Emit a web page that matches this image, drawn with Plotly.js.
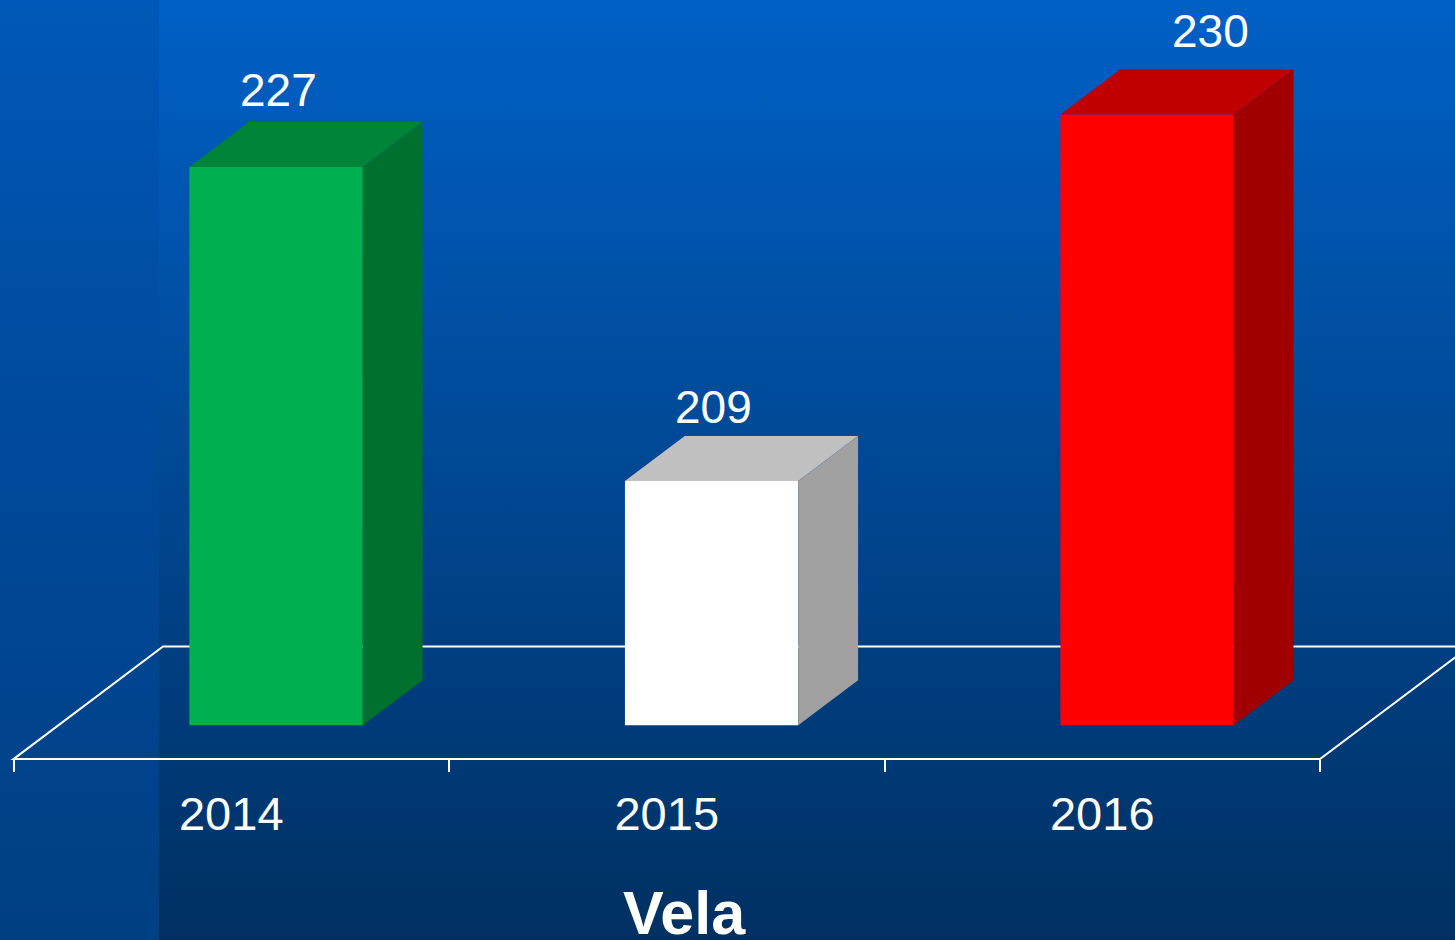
<!DOCTYPE html>
<html><head><meta charset="utf-8">
<script src="https://cdn.plot.ly/plotly-3.0.1.min.js"></script>
<style>
html,body{margin:0;padding:0;width:1455px;height:940px;overflow:hidden;background:#003062;}
#bg{position:absolute;left:0;top:0;width:1455px;height:940px;background:linear-gradient(to bottom,#0060c6 0%,#004a98 45%,#003062 100%);}
#strip{position:absolute;left:0;top:0;width:159px;height:940px;background:linear-gradient(to bottom,#0058b8 0%,#004a9c 45%,#003f82 100%);}
#chart{position:absolute;left:0;top:0;width:1455px;height:940px;}
</style></head>
<body><div id="bg"></div><div id="strip"></div><div id="chart"></div>
<script>
// ---- data ----
const categories = ['2014', '2015', '2016'];
const values = [227, 209, 230];
const frontColors = ['#00b050', '#ffffff', '#ff0000'];
const topColors = ['#00843a', '#c0c0c0', '#c00000'];
const sideColors = ['#00702f', '#a0a0a0', '#a00000'];
const axisTitle = 'Vela';

// ---- geometry (axis units) ----
const yBase = 195;            // value at the bars' bottom
const DX = 0.3433;            // floor depth along x (category units)
const DY = 6.453;             // floor depth along y (value units)
const barFront = 0.3, barDepth = 0.4, barW = 0.398;
const floorY = yBase - barFront * DY;
const FONT = 'Liberation Sans, Arial, sans-serif';

const xs = categories.map((c, i) => i + barFront * DX);
const traces = [];

// front faces as bars
traces.push({
  type: 'bar', x: xs, y: values.map(v => v - yBase), base: yBase, width: barW,
  marker: {color: frontColors, line: {width: 0}}, hoverinfo: 'skip', showlegend: false
});
// top and side faces
values.forEach((v, i) => {
  const x0 = xs[i] - barW / 2, x1 = xs[i] + barW / 2;
  const ddx = barDepth * DX, ddy = barDepth * DY;
  traces.push({
    type: 'scatter', mode: 'lines', fill: 'toself', fillcolor: topColors[i],
    line: {width: 0, color: topColors[i]}, hoverinfo: 'skip', showlegend: false,
    x: [x0, x1, x1 + ddx, x0 + ddx, x0], y: [v, v, v + ddy, v + ddy, v]
  });
  traces.push({
    type: 'scatter', mode: 'lines', fill: 'toself', fillcolor: sideColors[i],
    line: {width: 0, color: sideColors[i]}, hoverinfo: 'skip', showlegend: false,
    x: [x1, x1 + ddx, x1 + ddx, x1, x1], y: [yBase, yBase + ddy, v + ddy, v, yBase]
  });
});

const n = categories.length;
const floorPath = `M ${-0.5},${floorY} L ${n - 0.5},${floorY} L ${n - 0.5 + DX},${floorY + DY} L ${-0.5 + DX},${floorY + DY} Z`;

const annotations = values.map((v, i) => ({
  x: xs[i], y: v, xref: 'x', yref: 'y', text: String(v), showarrow: false,
  yanchor: 'bottom', yshift: [49, 46, 56][i], xshift: [2, 2, 63][i],
  font: {family: FONT, size: 46, color: '#ffffff'}
}));
annotations.push({
  x: 684 / 1455, y: 0.067, xref: 'paper', yref: 'paper', yanchor: 'top', xanchor: 'center',
  text: '<b>' + axisTitle + '</b>', showarrow: false,
  font: {family: FONT, size: 61, color: '#ffffff'}
});

const layout = {
  width: 1455, height: 940,
  margin: {l: 0, r: 0, t: 0, b: 0, pad: 0},
  paper_bgcolor: 'rgba(0,0,0,0)', plot_bgcolor: 'rgba(0,0,0,0)',
  showlegend: false, hovermode: false,
  xaxis: {
    range: [-0.531, 2.810], anchor: 'free', position: (940 - 759.3) / 940,
    tickmode: 'array', tickvals: categories.map((c, i) => i), ticktext: categories,
    ticks: 'outside', ticklen: 13, tickcolor: 'rgba(0,0,0,0)',
    tickfont: {family: FONT, size: 47, color: '#ffffff'},
    showline: false, showgrid: false, zeroline: false,
    minor: {tickmode: 'array', tickvals: [-0.5, 0.5, 1.5, 2.5], ticks: 'outside', ticklen: 12, tickwidth: 2, tickcolor: '#ffffff', showgrid: false},
    fixedrange: true
  },
  yaxis: {range: [182.696, 236.564], visible: false, showgrid: false, zeroline: false, fixedrange: true},
  shapes: [{type: 'path', path: floorPath, xref: 'x', yref: 'y', layer: 'below', line: {color: '#ffffff', width: 2}}],
  annotations: annotations
};

Plotly.newPlot('chart', traces, layout, {displayModeBar: false, staticPlot: true});
</script>
</body></html>
